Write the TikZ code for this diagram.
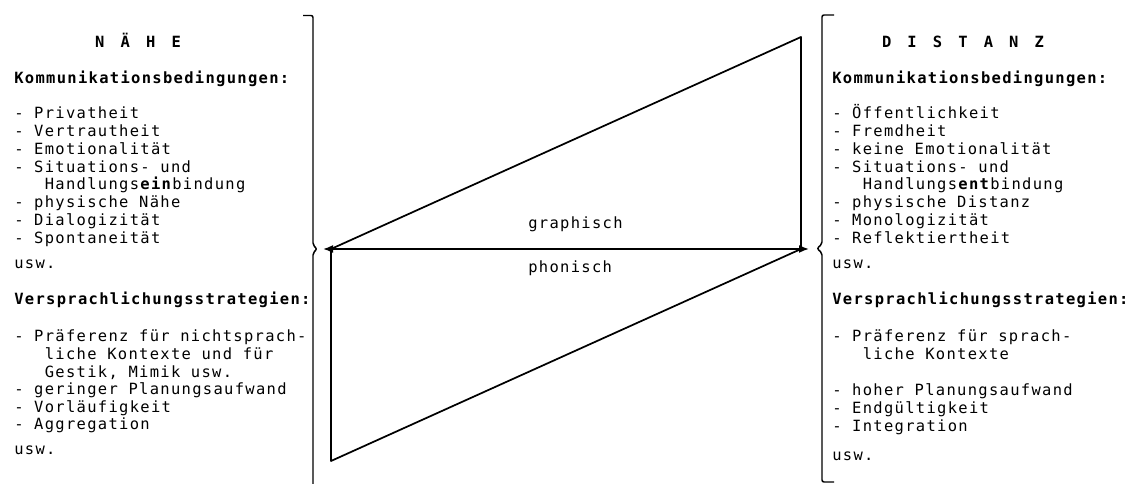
\documentclass[tikz,border=0pt]{standalone}
\usepackage{fontspec}
\setmonofont[LetterSpace=8.5]{DejaVu Sans Mono}
\newcommand\gap{\hspace{12.1pt}}
\usepackage{tikz}
\usetikzlibrary{arrows.meta}

\begin{document}
\begin{tikzpicture}[
 x=0.75pt,y=-0.75pt,
 font=\fontsize{11.6}{14}\selectfont\ttfamily,
 txt/.style={anchor=base west,inner sep=0pt},
 head/.style={txt,font=\fontsize{11.6}{14}\selectfont\ttfamily\bfseries},
 ttl/.style={anchor=base,inner sep=0pt,font=\fontsize{11.6}{14}\selectfont\ttfamily\bfseries},
 brace/.style={line width=1.1pt,rounded corners=1.5pt},
 tri/.style={line width=1.3pt,line join=round},
 arr/.style={{Latex[length=7.5pt,width=6pt]}-{Latex[length=7.5pt,width=6pt]},line width=1.3pt}
]
\useasboundingbox (0,0) rectangle (1129,484);

% Naehe
\node[ttl] (naheT) at (138,48) {N\gap Ä\gap H\gap E};
\node[head] (naheK) at (14,84) {Kommunikationsbedingungen:};
\foreach \y/\t [count=\i] in {119/{- Privatheit},137/{- Vertrautheit},155/{- Emotionalität},
  173/{- Situations- und},190/{\hphantom{xxx}Handlungs\textbf{ein}bindung},208/{- physische Nähe},
  226/{- Dialogizität},244/{- Spontaneität},269/{usw.}}
  \node[txt] (naheK\i) at (14,\y) {\t};
\node[head] (naheV) at (14,305) {Versprachlichungsstrategien:};
\foreach \y/\t [count=\i] in {342/{- Präferenz für nichtsprach-},359.6/{\hphantom{xxx}liche Kontexte und für},
  377.2/{\hphantom{xxx}Gestik, Mimik usw.},394.8/{- geringer Planungsaufwand},412.4/{- Vorläufigkeit},
  430/{- Aggregation},455/{usw.}}
  \node[txt] (naheV\i) at (14,\y) {\t};

% Distanz
\node[ttl] (distT) at (963,48) {D\gap I\gap S\gap T\gap A\gap N\gap Z};
\node[head] (distK) at (832,84) {Kommunikationsbedingungen:};
\foreach \y/\t [count=\i] in {119/{- Öffentlichkeit},137/{- Fremdheit},155/{- keine Emotionalität},
  173/{- Situations- und},190/{\hphantom{xxx}Handlungs\textbf{ent}bindung},208/{- physische Distanz},
  226/{- Monologizität},244/{- Reflektiertheit},269/{usw.}}
  \node[txt] (distK\i) at (832,\y) {\t};
\node[head] (distV) at (832,305) {Versprachlichungsstrategien:};
\foreach \y/\t [count=\i] in {342/{- Präferenz für sprach-},359.9/{\hphantom{xxx}liche Kontexte},
  395.7/{- hoher Planungsaufwand},413.6/{- Endgültigkeit},431.5/{- Integration},461/{usw.}}
  \node[txt] (distV\i) at (832,\y) {\t};

% Klammern
\draw[brace] (303,15.5) -- (313,15.5) -- (313,245) -- (317,249) -- (313,253) -- (313,484);
\draw[brace] (834,15) -- (822,15) -- (822,244) -- (817,248.5) -- (822,253) -- (822,482) -- (834,482);

% Dreiecke und Pfeil
\coordinate (tL) at (331,249);
\coordinate (tTop) at (801,37);
\coordinate (tR) at (801,249);
\coordinate (tBot) at (331,461);
\coordinate (aL) at (323,249);
\coordinate (aR) at (809,249);
\draw[tri] (tL) -- (tTop) -- (tR);
\draw[tri] (tL) -- (tBot) -- (tR);
\draw[arr] (aL) -- (aR);
\node[txt] (graphL) at (528,229) {graphisch};
\node[txt] (phonL) at (528,273) {phonisch};
\end{tikzpicture}
\end{document}
